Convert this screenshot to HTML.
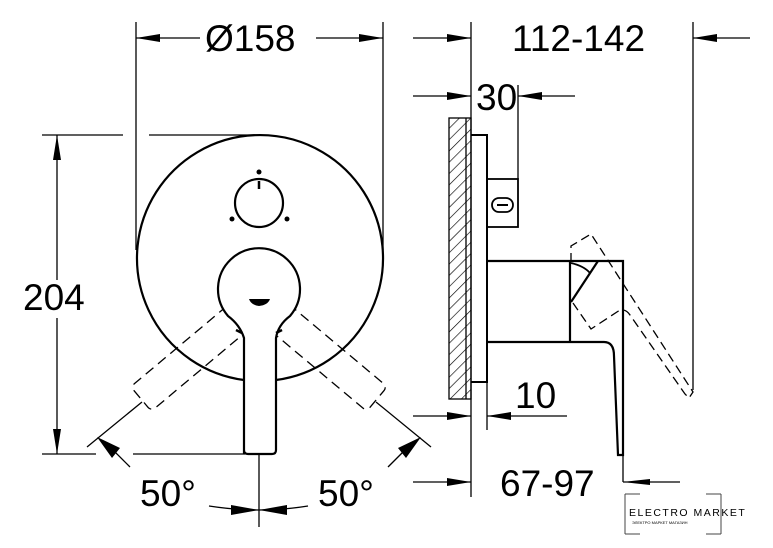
<!DOCTYPE html>
<html><head><meta charset="utf-8"><style>
html,body{margin:0;padding:0;background:#fff;}
svg{display:block;}
text{font-family:"Liberation Sans",sans-serif;fill:#000;}
</style></head><body>
<svg width="773" height="548" viewBox="0 0 773 548" xmlns="http://www.w3.org/2000/svg">
<defs>
<pattern id="h" width="8" height="8" patternUnits="userSpaceOnUse" patternTransform="rotate(45)">
<line x1="0" y1="0" x2="0" y2="8" stroke="#000" stroke-width="1.3"/>
</pattern>
</defs>
<g stroke="#000" fill="none" stroke-width="1.3">
<line x1="136" y1="22" x2="136" y2="250"/>
<line x1="383" y1="22" x2="383" y2="250"/>
<line x1="136" y1="38" x2="200" y2="38"/>
<line x1="316" y1="38" x2="383" y2="38"/>
<line x1="413" y1="38" x2="471" y2="38"/>
<line x1="471" y1="22" x2="471" y2="497"/>
<line x1="693" y1="22" x2="693" y2="390"/>
<line x1="693" y1="38" x2="750" y2="38"/>
<line x1="42" y1="135" x2="123" y2="135"/>
<line x1="149" y1="135" x2="259" y2="135"/>
<line x1="42" y1="454" x2="96" y2="454"/>
<line x1="133" y1="454" x2="245" y2="454"/>
<line x1="57" y1="135" x2="57" y2="280"/>
<line x1="57" y1="318" x2="57" y2="454"/>
<path d="M244 380 A123 123 0 1 1 276 380" stroke-width="2.2"/>
<circle cx="259" cy="203" r="24" stroke-width="2.2"/>
<line x1="259" y1="181" x2="259" y2="189" stroke-width="2.5"/>
<g stroke-dasharray="10,6">
<rect x="243" y="318" width="32" height="136" rx="5" transform="rotate(50 259 300)"/>
<rect x="243" y="318" width="32" height="136" rx="5" transform="rotate(-50 259 300)"/>
</g>
<path d="M244 454 L244 338 Q240 325 228 316 A41 41 0 1 1 290 316 Q278 325 276 338 L276 450 Q276 454 272 454 L248 454 Q244 454 244 450" stroke-width="2.2" fill="#fff"/>
<line x1="259" y1="454" x2="259" y2="527"/>
<line x1="236" y1="330" x2="242" y2="333" stroke-width="2.5"/>
<line x1="276" y1="333" x2="282" y2="330" stroke-width="2.5"/>
<line x1="142" y1="402" x2="87" y2="447"/>
<line x1="376" y1="402" x2="431" y2="447"/>
<line x1="108" y1="445" x2="130" y2="467"/>
<line x1="410" y1="445" x2="388" y2="467"/>
<path d="M209 506 Q235 510 259 510 Q283 510 308 506"/>
<rect x="449" y="118" width="22" height="281" fill="url(#h)"/>
<line x1="466" y1="118" x2="466" y2="399"/>
<path d="M471 135 L487 135 L487 382 L471 382" stroke-width="2"/>
<rect x="487" y="179" width="31" height="48" stroke-width="1.8"/>
<rect x="492" y="198" width="21" height="14" rx="7" stroke-width="1.8"/>
<line x1="497" y1="205" x2="508" y2="205" stroke-width="2"/>
<line x1="518" y1="85" x2="518" y2="179"/>
<line x1="413" y1="96" x2="471" y2="96"/>
<line x1="518" y1="96" x2="575" y2="96"/>
<path d="M487 261 L623 261 L623 455 L618 455 L614 356 Q614 342 604 342 L487 342" stroke-width="2.2"/>
<line x1="570" y1="261" x2="570" y2="342" stroke-width="2.2"/>
<line x1="598" y1="261" x2="571" y2="302" stroke-width="2.2"/>
<path d="M571 263 Q584 266 590 273" stroke-width="1.8"/>
<path d="M571 262 L571 246 L591 234 L693 392 L689 398 L685 394 L630 315 Q626 309 620 310 L591 329 L573 303" stroke-dasharray="9,5"/>
<line x1="487" y1="382" x2="487" y2="430"/>
<line x1="413" y1="416" x2="471" y2="416"/>
<line x1="487" y1="416" x2="567" y2="416"/>
<line x1="413" y1="482" x2="471" y2="482"/>
<line x1="623" y1="455" x2="623" y2="482"/>
<line x1="623" y1="482" x2="680" y2="482"/>
</g>
<path d="M625 494 L640 494 M706 494 L721 494 M625 534 L640 534 M706 534 L721 534 M625 494 V534 M721 494 V534" stroke="#444" fill="none"/>
<g fill="#000" stroke="none">
<circle cx="259" cy="172" r="2.5"/><circle cx="232" cy="219" r="2.5"/><circle cx="287" cy="219" r="2.5"/>
<path d="M249 299 L270 299 Q268 305 259 306 Q251 305 249 299Z"/>
<polygon points="136,38 160,34 160,42"/>
<polygon points="383,38 359,34 359,42"/>
<polygon points="471,38 447,34 447,42"/>
<polygon points="693,38 717,34 717,42"/>
<polygon points="57,135 53,160 61,160"/>
<polygon points="57,454 53,429 61,429"/>
<polygon points="471,96 447,92 447,100"/>
<polygon points="518,96 542,92 542,100"/>
<polygon points="471,416 447,412 447,420"/>
<polygon points="487,416 511,412 511,420"/>
<polygon points="471,482 447,478 447,486"/>
<polygon points="623,482 650,479 650,485"/>
<polygon points="97,437 120,448 112,458"/>
<polygon points="421,437 398,448 406,458"/>
<polygon points="259,510 231,505 231,515"/>
<polygon points="259,510 287,505 287,515"/>
</g>
<g font-size="37">
<text x="205" y="51">Ø158</text>
<text x="512" y="51">112-142</text>
<text x="476" y="110">30</text>
<text x="23" y="310">204</text>
<text x="515" y="408">10</text>
<text x="500" y="496">67-97</text>
<text x="140" y="506">50°</text>
<text x="318" y="506">50°</text>
</g>
<text x="629" y="516" font-size="10.5" letter-spacing="1.5">ELECTRO MARKET</text>
<text x="632" y="524" font-size="4" fill="#666">ЭЛЕКТРО МАРКЕТ МАГАЗИН</text>
</svg>
</body></html>
